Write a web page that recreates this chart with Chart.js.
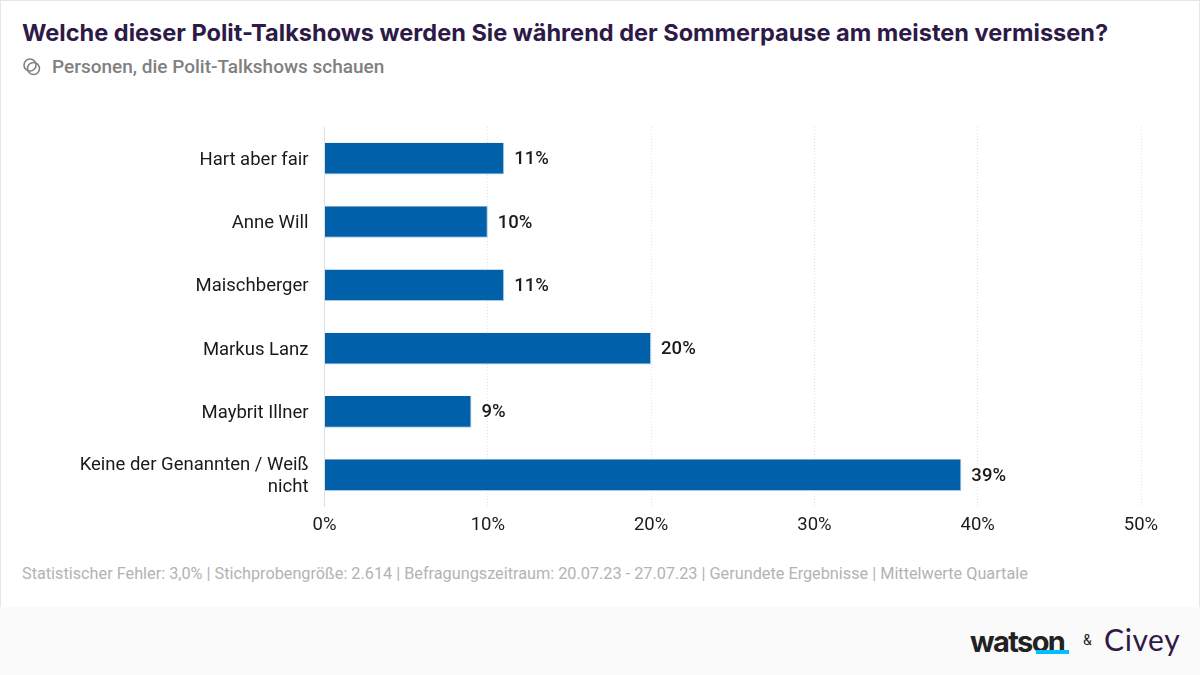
<!DOCTYPE html>
<html lang="de">
<head>
<meta charset="utf-8">
<title>Polit-Talkshows</title>
<script src="https://cdn.jsdelivr.net/npm/chart.js@4/dist/chart.umd.min.js"></script>
<style>
  html, body { margin: 0; padding: 0; background: #fff; }
  body { width: 1200px; height: 675px; position: relative; overflow: hidden; font-family: Roboto, sans-serif; }
  #frame { position: absolute; inset: 0; border: 1px solid #e6e6e6; border-bottom: none; box-sizing: border-box; }
  #title { position: absolute; left: 22px; top: 18px; font: 700 23.55px Inter, sans-serif; color: #2e1a47; white-space: nowrap; }
  #subtitle { position: absolute; left: 52px; top: 55px; font: 500 19px Roboto, sans-serif; color: #808080; white-space: nowrap; }
  #icon { position: absolute; left: 23px; top: 58px; }
  #chartBox { position: absolute; left: 0; top: 100px; width: 1200px; height: 450px; }
  #note { position: absolute; left: 22px; top: 564px; font: 400 16.25px Roboto, sans-serif; color: #b3b3b3; white-space: nowrap; }
  #footer { position: absolute; left: 0; top: 607px; width: 1200px; height: 68px; background: #fafafa; }
  #watson { position: absolute; left: 970px; top: 17px; font: 700 29px Inter, sans-serif; color: #222; letter-spacing: -1.6px; }
  #underline { position: absolute; left: 1036px; top: 43px; width: 33px; height: 4px; background: #00bfff; }
  #amp { position: absolute; left: 1083px; top: 25px; font: 400 14px Roboto, sans-serif; color: #222; }
  #civey { position: absolute; left: 1104px; top: 14px; font: 400 30px Lato, sans-serif; color: #2e1a47; letter-spacing: 0.6px; }
</style>
</head>
<body>
<div id="frame"></div>
<div id="title">Welche dieser Polit-Talkshows werden Sie während der Sommerpause am meisten vermissen?</div>
<svg id="icon" width="18" height="18" viewBox="0 0 18 18" fill="none" stroke="#808080" stroke-width="1.6">
  <circle cx="7" cy="7" r="6"></circle>
  <circle cx="10.5" cy="10.5" r="6"></circle>
</svg>
<div id="subtitle">Personen, die Polit-Talkshows schauen</div>
<div id="chartBox"><canvas id="chart"></canvas></div>
<div id="note">Statistischer Fehler: 3,0% | Stichprobengröße: 2.614 | Befragungszeitraum: 20.07.23 - 27.07.23 | Gerundete Ergebnisse | Mittelwerte Quartale</div>
<div id="footer">
  <div id="watson">watson</div>
  <div id="underline"></div>
  <div id="amp">&amp;</div>
  <div id="civey">Civey</div>
</div>
<script>
const categories = [
  "Hart aber fair",
  "Anne Will",
  "Maischberger",
  "Markus Lanz",
  "Maybrit Illner",
  ["Keine der Genannten / Weiß", "nicht"],
];
const shares = [11, 10, 11, 20, 9, 39];

// Draw the percentage next to each bar
const barValueLabels = {
  id: "barValueLabels",
  afterDatasetsDraw(chart) {
    const ctx = chart.ctx;
    ctx.save();
    ctx.font = "500 18.5px Roboto, sans-serif";
    ctx.fillStyle = "#1a1a1a";
    ctx.textAlign = "left";
    ctx.textBaseline = "middle";
    chart.getDatasetMeta(0).data.forEach((bar, i) => {
      ctx.fillText(shares[i] + "%", bar.x + 10, bar.y + 1);
    });
    ctx.restore();
  },
};

new Chart(document.getElementById("chart").getContext("2d"), {
  type: "bar",
  data: {
    labels: categories,
    datasets: [
      {
        data: shares,
        backgroundColor: "#0060a9",
        borderColor: "#a9cbe6",
        borderWidth: { right: 1, bottom: 1 },
        borderSkipped: false,
        barPercentage: 0.5,
        categoryPercentage: 1,
      },
    ],
  },
  options: {
    indexAxis: "y",
    responsive: true,
    maintainAspectRatio: false,
    animation: false,
    layout: { padding: { left: 0, right: 59, top: 27, bottom: 7 } },
    plugins: {
      legend: { display: false },
      tooltip: { enabled: false },
    },
    scales: {
      x: {
        min: 0,
        max: 50,
        ticks: {
          stepSize: 10,
          callback: (value) => value + "%",
          color: "#1a1a1a",
          font: { family: "Roboto", size: 18.5 },
          padding: 7,
          maxRotation: 0,
        },
        grid: {
          color: "#e3e3e3",
          lineWidth: 1,
          drawTicks: false,
        },
        border: { display: false, dash: [1, 2] },
      },
      y: {
        // Fixed label column, and no extra room above the first row
        afterFit: (axis) => {
          axis.width = 324.5;
          axis.paddingTop = 0;
        },
        ticks: {
          color: "#1a1a1a",
          font: { family: "Roboto", size: 18.5 },
          padding: 16,
          labelOffset: 1.5,
        },
        grid: { display: false, drawTicks: false },
        border: { color: "#dcdfe3", width: 1 },
      },
    },
  },
  plugins: [barValueLabels],
});
</script>
</body>
</html>
